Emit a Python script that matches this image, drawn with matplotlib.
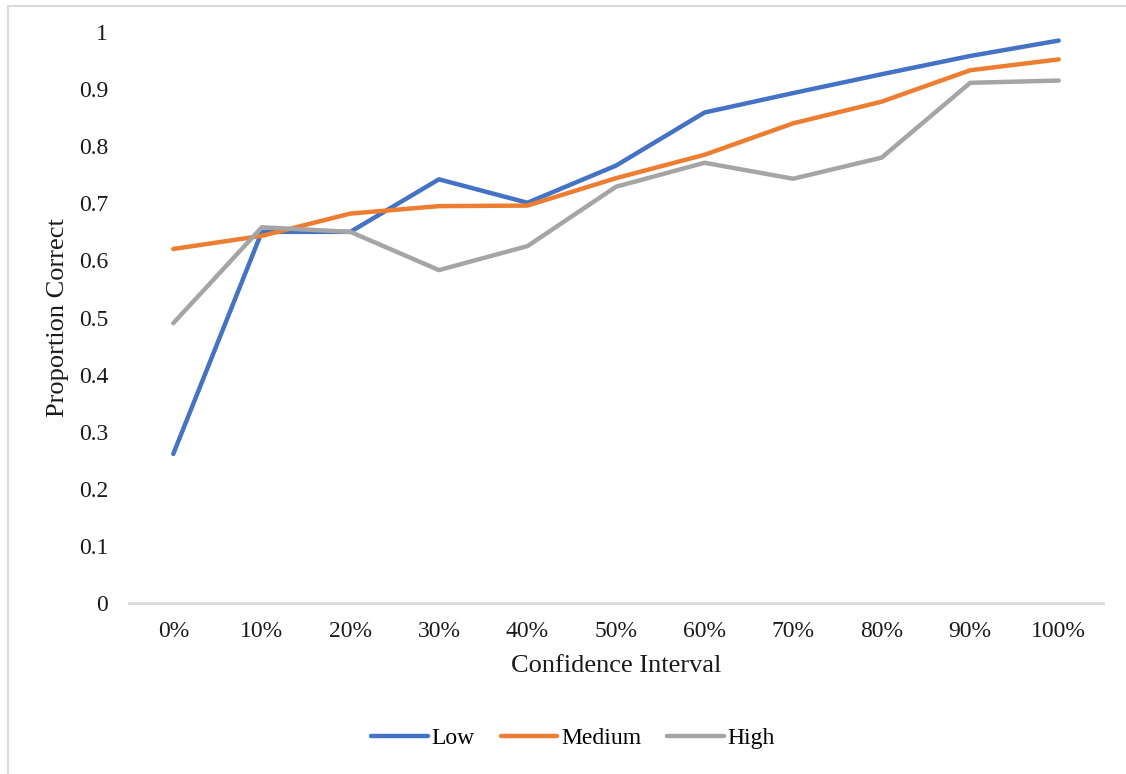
import matplotlib
matplotlib.use("Agg")
import matplotlib.pyplot as plt
from matplotlib.lines import Line2D

categories = ["0%", "10%", "20%", "30%", "40%", "50%", "60%", "70%", "80%", "90%", "100%"]
low = [0.261, 0.650, 0.650, 0.742, 0.701, 0.766, 0.859, 0.893, 0.926, 0.958, 0.985]
medium = [0.620, 0.643, 0.682, 0.695, 0.696, 0.744, 0.785, 0.840, 0.878, 0.933, 0.952]
high = [0.490, 0.658, 0.650, 0.583, 0.625, 0.729, 0.771, 0.743, 0.780, 0.911, 0.915]
series_names = ["Low", "Medium", "High"]
colors = ["#4472C4", "#ED7D31", "#A5A5A5"]
yticks = [0, 0.1, 0.2, 0.3, 0.4, 0.5, 0.6, 0.7, 0.8, 0.9, 1]
ytick_labels = ["0", "0.1", "0.2", "0.3", "0.4", "0.5", "0.6", "0.7", "0.8", "0.9", "1"]

plt.rcParams['font.family'] = ['Liberation Serif', 'DejaVu Serif']

W, H = 1126, 774
fig = plt.figure(figsize=(W / 100, H / 100), dpi=100)
ax = fig.add_axes([129 / W, 1 - 603 / H, (1103 - 129) / W, (603 - 32) / H])

x = list(range(len(categories)))
for vals, name, c in zip([low, medium, high], series_names, colors):
    ax.plot(x, vals, color=c, lw=3.2, solid_capstyle='round', solid_joinstyle='round', label=name)

ax.set_xlim(-0.5, len(categories) - 0.5)
ax.set_ylim(0, 1)
ax.set_xticks(x)
ax.set_xticklabels(categories)
ax.set_yticks(yticks)
ax.set_yticklabels(ytick_labels)
ax.tick_params(axis='both', length=0, labelsize=17, colors='#1a1a1a')
ax.tick_params(axis='y', pad=15)
ax.tick_params(axis='x', pad=13)
for s in ['top', 'right', 'left']:
    ax.spines[s].set_visible(False)
ax.spines['bottom'].set_color('#d9d9d9')
ax.spines['bottom'].set_linewidth(2)
ax.set_ylabel("Proportion Correct", fontsize=19, labelpad=7, color='#1a1a1a')
ax.set_xlabel("Confidence Interval", fontsize=19, labelpad=9, color='#1a1a1a')

handles = [Line2D([0], [0], color=c, lw=3.2, solid_capstyle='round') for c in colors]
fig.legend(handles, series_names, loc='center', bbox_to_anchor=(573 / W, 1 - 738 / H),
           ncol=3, frameon=False, fontsize=17, handlelength=2.4, handletextpad=0.15,
           columnspacing=1.1)

# chart border (left and top edges visible)
fig.add_artist(Line2D([8 / W, 8 / W], [0, 1 - 6 / H], transform=fig.transFigure, color='#d9d9d9', lw=1.5))
fig.add_artist(Line2D([8 / W, 1], [1 - 6 / H, 1 - 6 / H], transform=fig.transFigure, color='#d9d9d9', lw=1.5))

fig.savefig("out.png", dpi=100)
